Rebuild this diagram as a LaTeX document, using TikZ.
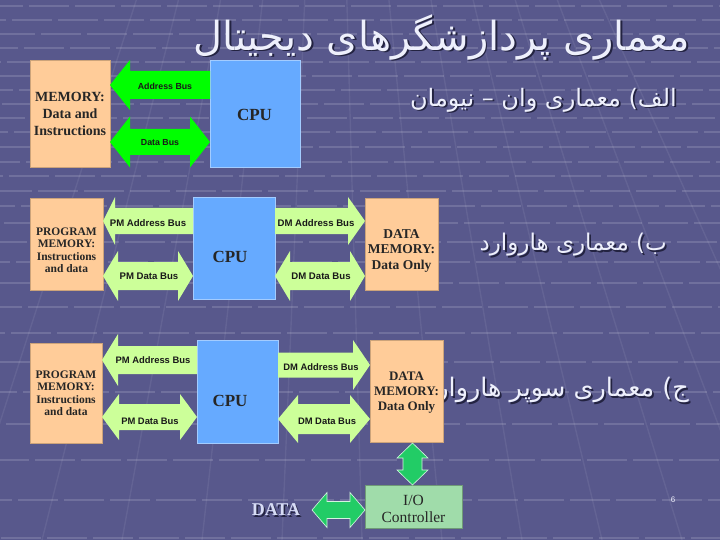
\documentclass[tikz,border=0pt]{standalone}
\usepackage{fontspec}
\setmainfont{Liberation Serif}
\newfontfamily\fa[Script=Arabic]{DejaVu Sans}
\newfontfamily\arialf{Liberation Sans}
\TeXXeTstate=1
\usetikzlibrary{calc}
\definecolor{bgc}{RGB}{88,88,140}
\definecolor{peach}{RGB}{255,204,153}
\definecolor{cpublue}{RGB}{102,170,255}
\definecolor{bgreen}{RGB}{0,255,0}
\definecolor{lgreen}{RGB}{204,255,153}
\definecolor{mgreen}{RGB}{34,204,102}
\definecolor{iogreen}{RGB}{160,220,170}
\definecolor{txtw}{RGB}{238,240,252}
\definecolor{shadowc}{RGB}{35,35,65}
\definecolor{datac}{RGB}{215,220,245}
% single block arrow: style, tip x, tail x, y, head half, shaft half, head length (signed)
\newcommand\ArrS[7]{\path[#1] (#2,#4) -- ({#2+#7},{#4-#5}) -- ({#2+#7},{#4-#6}) -- (#3,{#4-#6}) -- (#3,{#4+#6}) -- ({#2+#7},{#4+#6}) -- ({#2+#7},{#4+#5}) -- cycle;}
% double horizontal block arrow: style, x1, x2, y, head half, shaft half, head length
\newcommand\ArrD[7]{\path[#1] (#2,#4) -- ({#2+#7},{#4-#5}) -- ({#2+#7},{#4-#6}) -- ({#3-#7},{#4-#6}) -- ({#3-#7},{#4-#5}) -- (#3,#4) -- ({#3-#7},{#4+#5}) -- ({#3-#7},{#4+#6}) -- ({#2+#7},{#4+#6}) -- ({#2+#7},{#4+#5}) -- cycle;}
% double vertical block arrow: style, x, y1, y2, head half, shaft half, head length
\newcommand\ArrV[7]{\path[#1] (#2,#3) -- ({#2+#5},{#3+#7}) -- ({#2+#6},{#3+#7}) -- ({#2+#6},{#4-#7}) -- ({#2+#5},{#4-#7}) -- (#2,#4) -- ({#2-#5},{#4-#7}) -- ({#2-#6},{#4-#7}) -- ({#2-#6},{#3+#7}) -- ({#2-#5},{#3+#7}) -- cycle;}
\newcommand\FaText[5]{%
  \node[anchor=#3, text=shadowc, font=\fa\fontsize{#4}{#4}\selectfont, inner sep=0pt] (#1s) at ($#2+(1.8,1.8)$) {#5};
  \node[anchor=#3, text=txtw, font=\fa\fontsize{#4}{#4}\selectfont, inner sep=0pt] (#1) at #2 {#5};}
\begin{document}
\begin{tikzpicture}[x=1pt,y=-1pt,
  boxp/.style={draw=peach!80!black, line width=0.4pt, fill=peach, inner sep=0pt},
  boxc/.style={draw=cpublue!60!white, line width=0.6pt, fill=cpublue, inner sep=0pt},
  boxio/.style={draw=iogreen!70!black, line width=0.6pt, fill=iogreen, inner sep=0pt},
  memtxt/.style={font=\bfseries\fontsize{#1}{#1}\selectfont, align=center, inner sep=0pt, text=black!85},
  cputxt/.style={font=\bfseries\fontsize{17}{17}\selectfont, inner sep=0pt, text=black!85},
  bus/.style={font=\arialf\bfseries\fontsize{#1}{#1}\selectfont, inner sep=0pt, text=black!90},
  arrA/.style={fill=bgreen},
  arrB/.style={fill=lgreen},
  arrM/.style={fill=mgreen, draw=white!80!mgreen, line width=0.6pt},
  gridh/.style={draw=white, opacity=0.15, line width=1.6pt},
  grids/.style={draw=white, opacity=0.07, line width=1.4pt}]
\useasboundingbox (0,0) rectangle (720,540);
% background
\fill[bgc] (0,0) rectangle (720,540);
\begin{scope}
\clip (0,0) rectangle (720,540);
\foreach \yy [count=\i] in {6,20,34,48,62,76,90,104,118,132,147,162,176,191,206,223,242,262,283,307,333,362,392,424,460,500,538}
  \draw[gridh, dash pattern=on 40pt off 6pt, dash phase={mod(\i*17,46)}] (0,\yy) -- (720,\yy);
\foreach \xx in {-38,42,122,202,282,362,442,522,602,682,762,842}
  \draw[grids] (330,-600) -- (\xx,540);
\end{scope}
% subtitles
\FaText{subA}{(677,100)}{east}{24}{\beginR الف\kern0pt) معماری وان – نیومان\endR}
\FaText{subB}{(667,245)}{east}{23}{\beginR ب\kern0pt) معماری هاروارد\endR}
\FaText{subC}{(689,390)}{east}{25.5}{\beginR ج\kern0pt) معماری سوپر هاروارد\endR}
% ---------- A: von Neumann ----------
\node[boxp, minimum width=80, minimum height=107] (memA) at (70,113.5) {};
\node[boxc, minimum width=90, minimum height=107] (cpuA) at (255,113.5) {};
\node[memtxt=14, text depth=0pt] (memAt) at (70,114) {MEMORY:\\[3pt]Data and\\[3pt]Instructions};
\node[cputxt] (cpuAt) at (254.5,115) {CPU};
\ArrS{arrA}{110}{210}{85}{25}{14}{20}
\ArrD{arrA}{110}{210}{142}{25.5}{13}{20}
\node[bus=8.8] (busAa) at (165,86) {Address Bus};
\node[bus=8.8] (busAd) at (160,143) {Data Bus};
% ---------- B: Harvard ----------
\node[boxp, minimum width=73, minimum height=92] (pmB) at (66.5,244) {};
\node[boxc, minimum width=82, minimum height=102] (cpuB) at (234,248) {};
\node[boxp, minimum width=73, minimum height=92] (dmB) at (401.5,244) {};
\node[memtxt=11.5] (pmBt) at (66.5,250) {PROGRAM\\[1pt]MEMORY:\\[1pt]Instructions\\[1pt]and data};
\node[cputxt] (cpuBt) at (230,257) {CPU};
\node[memtxt=13.5] (dmBt) at (401.5,250.5) {DATA\\[2pt]MEMORY:\\[2pt]Data Only};
\ArrS{arrB}{103}{193}{221}{24}{13}{12}
\ArrD{arrB}{103}{193}{276}{25}{14}{15}
\ArrS{arrB}{365}{275}{221}{24}{13}{-17}
\ArrD{arrB}{275}{365}{276}{25}{14}{15}
\node[bus=9.6] (busBpa) at (148,223) {PM Address Bus};
\node[bus=9.6] (busBpd) at (149,276) {PM Data Bus};
\node[bus=9.6] (busBda) at (316,223) {DM Address Bus};
\node[bus=9.6] (busBdd) at (321,276) {DM Data Bus};
% ---------- C: Super Harvard ----------
\node[boxp, minimum width=72, minimum height=100] (pmC) at (66,393) {};
\node[boxc, minimum width=81, minimum height=103] (cpuC) at (237.5,391.5) {};
\node[boxp, minimum width=73, minimum height=102] (dmC) at (406.5,391) {};
\node[boxio, minimum width=97, minimum height=43] (ioC) at (413.5,506.5) {};
\node[memtxt=11.5] (pmCt) at (66,393) {PROGRAM\\[1pt]MEMORY:\\[1pt]Instructions\\[1pt]and data};
\node[cputxt] (cpuCt) at (230,401) {CPU};
\node[memtxt=13] (dmCt) at (406.5,392.5) {DATA\\[2pt]MEMORY:\\[2pt]Data Only};
\node[font=\fontsize{15.5}{15.5}\selectfont, align=center, inner sep=0pt, text=black!85] (ioCt) at (413.5,509) {I/O\\[1pt]Controller};
\ArrS{arrB}{102}{197}{360}{26}{14}{16}
\ArrD{arrB}{102}{197}{417}{23}{13}{17}
\ArrS{arrB}{370}{278}{365}{25}{12.5}{-17}
\ArrD{arrB}{278}{370}{419}{24}{15}{20}
\node[bus=9.4] (busCpa) at (153,360) {PM Address Bus};
\node[bus=9.4] (busCpd) at (150,421) {PM Data Bus};
\node[bus=9.4] (busCda) at (321,367) {DM Address Bus};
\node[bus=9.4] (busCdd) at (327,421) {DM Data Bus};
\ArrV{arrM}{412.5}{443}{485}{15.5}{9.5}{15}
\ArrD{arrM}{312}{365}{510}{17.5}{8.5}{15}
\node[font=\bfseries\fontsize{18}{18}\selectfont, text=shadowc, inner sep=0pt] (datas) at (277.5,511.5) {DATA};
\node[font=\bfseries\fontsize{18}{18}\selectfont, text=datac, inner sep=0pt] (datat) at (276,510) {DATA};
\node[font=\arialf\fontsize{8}{8}\selectfont, text=txtw, inner sep=0pt] (pagenum) at (673,500) {6};
% title
\FaText{title}{(690,37)}{east}{40}{\beginR معماری پردازشگرهای دیجیتال\endR}
\end{tikzpicture}
\end{document}
